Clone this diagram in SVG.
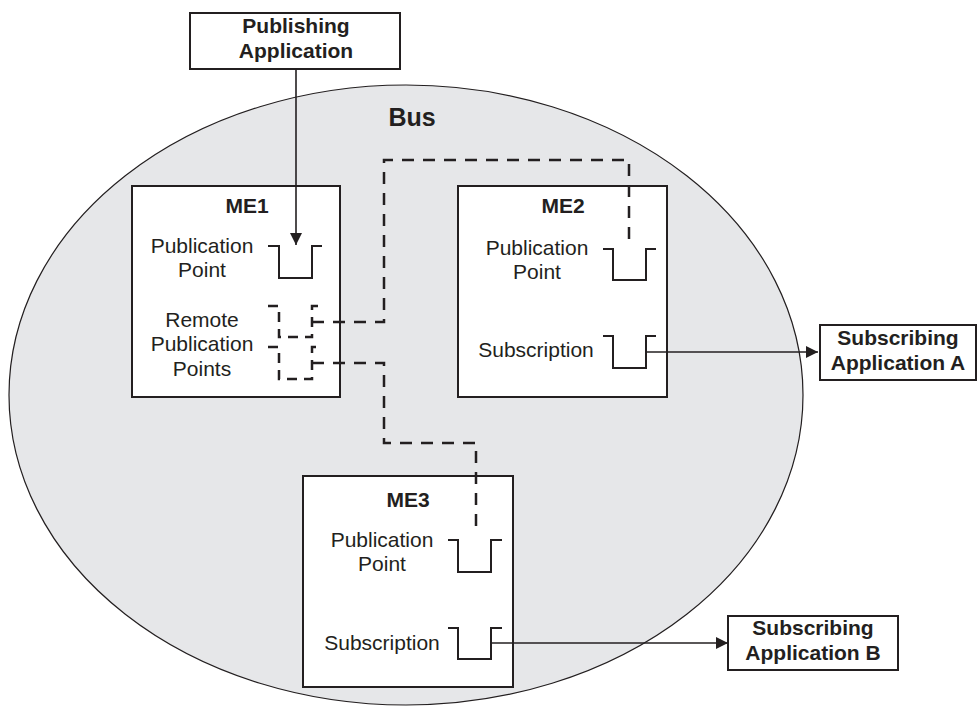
<svg xmlns="http://www.w3.org/2000/svg" width="977" height="707" viewBox="0 0 977 707">
<defs>
<marker id="arr" markerWidth="12" markerHeight="12" refX="12" refY="6" orient="auto" markerUnits="userSpaceOnUse">
<path d="M0,0 L12,6 L0,12 Z" fill="#231f20"/>
</marker>
<style>
.box{fill:#fff;stroke:#231f20;stroke-width:2}
.cup{fill:none;stroke:#231f20;stroke-width:2}
.dcup{fill:none;stroke:#231f20;stroke-width:2.5;stroke-dasharray:10 7}
.dash{fill:none;stroke:#231f20;stroke-width:2.5;stroke-dasharray:12 9}
.conn{fill:none;stroke:#231f20;stroke-width:1.6}
.t{font-family:"Liberation Sans",Arial,sans-serif;font-size:21px;fill:#231f20;text-anchor:middle}
.b{font-family:"Liberation Sans",Arial,sans-serif;font-size:21px;font-weight:bold;fill:#231f20;text-anchor:middle}
</style>
</defs>
<rect width="977" height="707" fill="#fff"/>
<g id="bus">
<ellipse cx="406" cy="395" rx="397" ry="310" fill="#e6e7e9" stroke="#231f20" stroke-width="1.2"/>
<text class="b" x="412" y="126" style="font-size:25px">Bus</text>
</g>
<g id="publishing-app">
<rect class="box" x="190" y="13" width="210" height="56"/>
<text class="b" x="296" y="33">Publishing</text>
<text class="b" x="296" y="58">Application</text>
</g>
<g id="me1">
<rect class="box" x="132" y="186" width="208" height="211"/>
<text class="b" x="247" y="213">ME1</text>
<text class="t" x="202" y="253">Publication</text>
<text class="t" x="202" y="277">Point</text>
<path class="cup" d="M268,246 H279 V278 H312 V246 H322"/>
<text class="t" x="202" y="327">Remote</text>
<text class="t" x="202" y="351">Publication</text>
<text class="t" x="202" y="376">Points</text>
<path class="dcup" d="M268,306 H279 V337 H312 V306 H322"/>
<path class="dcup" d="M268,347 H279 V379 H312 V347 H322"/>
</g>
<g id="me2">
<rect class="box" x="458" y="186" width="209" height="211"/>
<text class="b" x="563" y="213">ME2</text>
<text class="t" x="537" y="255">Publication</text>
<text class="t" x="537" y="279">Point</text>
<path class="cup" d="M603,249 H613 V280 H646 V249 H656"/>
<text class="t" x="536" y="357">Subscription</text>
<path class="cup" d="M603,336 H613 V368 H646 V336 H656"/>
</g>
<g id="me3">
<rect class="box" x="303" y="476" width="210" height="211"/>
<text class="b" x="408" y="507">ME3</text>
<text class="t" x="382" y="547">Publication</text>
<text class="t" x="382" y="571">Point</text>
<path class="cup" d="M448,540 H458 V572 H491 V540 H502"/>
<text class="t" x="382" y="650">Subscription</text>
<path class="cup" d="M448,628 H458 V659 H491 V628 H502"/>
</g>
<g id="sub-a">
<rect class="box" x="820" y="325" width="156" height="55"/>
<text class="b" x="898" y="345">Subscribing</text>
<text class="b" x="898" y="370">Application A</text>
</g>
<g id="sub-b">
<rect class="box" x="728" y="616" width="170" height="54"/>
<text class="b" x="813" y="635">Subscribing</text>
<text class="b" x="813" y="660">Application B</text>
</g>
<g id="connectors">
<path class="conn" d="M296,69 V245" marker-end="url(#arr)"/>
<path class="conn" d="M646,352 H818" marker-end="url(#arr)"/>
<path class="conn" d="M491,643 H728" marker-end="url(#arr)"/>
<path class="dash" d="M312,322 H384 V160 H629 V246"/>
<path class="dash" d="M312,363 H384 V443 H476 V534"/>
</g>
</svg>
